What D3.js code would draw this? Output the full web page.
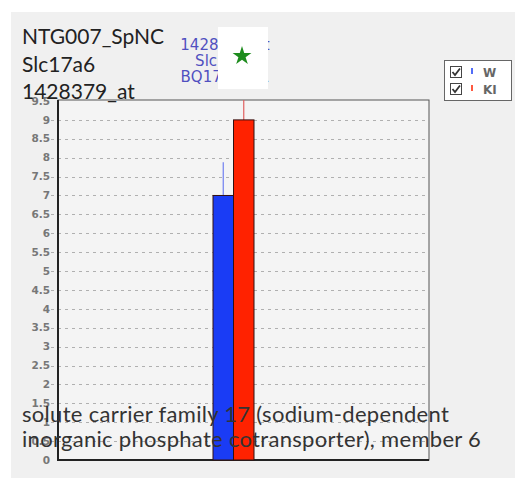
<!DOCTYPE html>
<html>
<head>
<meta charset="utf-8">
<script src="https://cdn.jsdelivr.net/npm/d3@7"></script>
<style>
  body { margin: 0; background: #fff; }
  svg { display: block; }
</style>
</head>
<body>
<svg id="chart"></svg>
<script>
(function() {

  var width = 515, height = 481;

  // data
  var groups = ["W", "KI"];
  var means = [7.0, 9.0];
  var errTops = [7.88, 9.6];
  var barColors = ["#1a3cf5", "#ff2200"];
  var tickValues = d3.range(0, 9.51, 0.5);
  var titleLines = ["NTG007_SpNC", "Slc17a6", "1428379_at"];
  var probeLines = ["1428379_at", "Slc17a6", "BQ1794551"];
  var descLines = ["solute carrier family 17 (sodium-dependent",
                   "inorganic phosphate cotransporter), member 6"];

  var svg = d3.select("#chart")
    .attr("width", width)
    .attr("height", height);

  // grey panel
  svg.append("rect")
    .attr("x", 11).attr("y", 12)
    .attr("width", width - 11).attr("height", 466)
    .attr("fill", "#f0f0f0");

  var plot = { left: 58, right: 429, top: 100, bottom: 460 };

  var yScale = d3.scaleLinear().domain([0, 9.5]).range([plot.bottom, plot.top + 1]);
  var xScale = d3.scaleBand().domain(groups).range([213, 254]).padding(0);

  svg.append("rect")
    .attr("x", plot.left).attr("y", plot.top)
    .attr("width", plot.right - plot.left).attr("height", plot.bottom - plot.top)
    .attr("fill", "#f4f4f4");

  // dashed grid, spills a bit to the left of the frame
  svg.append("g")
    .selectAll("line")
    .data(tickValues.filter(d => d > 0 && d < 9.5))
    .enter().append("line")
    .attr("x1", 51).attr("x2", plot.right)
    .attr("y1", d => Math.round(yScale(d)) + 0.5)
    .attr("y2", d => Math.round(yScale(d)) + 0.5)
    .attr("stroke", "#b0b0b0")
    .attr("stroke-width", 1)
    .attr("stroke-dasharray", "3,4");

  // tick labels
  svg.append("g")
    .selectAll("text")
    .data(tickValues)
    .enter().append("text")
    .attr("x", 50)
    .attr("y", d => yScale(d))
    .attr("dy", "0.35em")
    .attr("text-anchor", "end")
    .attr("font-family", "DejaVu Sans")
    .attr("font-size", 10.5)
    .attr("font-weight", "bold")
    .attr("fill", "#777")
    .text(d => d);

  // frame
  svg.append("rect")
    .attr("x", plot.left).attr("y", plot.top)
    .attr("width", plot.right - plot.left).attr("height", plot.bottom - plot.top)
    .attr("fill", "none")
    .attr("stroke", "#555")
    .attr("stroke-width", 1);
  svg.append("path")
    .attr("d", "M" + plot.left + "," + plot.top + "V" + plot.bottom + "H" + plot.right)
    .attr("fill", "none")
    .attr("stroke", "#222")
    .attr("stroke-width", 2);

  // error bars (upper only)
  svg.append("g")
    .selectAll("line")
    .data(groups)
    .enter().append("line")
    .attr("x1", d => xScale(d) + xScale.bandwidth() / 2)
    .attr("x2", d => xScale(d) + xScale.bandwidth() / 2)
    .attr("y1", (d, i) => yScale(means[i]))
    .attr("y2", (d, i) => Math.max(plot.top, yScale(errTops[i])))
    .attr("stroke", (d, i) => i === 0 ? "#6f7ff0" : "#e06060")
    .attr("stroke-width", 1.2);

  // bars
  svg.append("g")
    .selectAll("rect")
    .data(groups)
    .enter().append("rect")
    .attr("x", d => xScale(d))
    .attr("y", (d, i) => yScale(means[i]))
    .attr("width", xScale.bandwidth())
    .attr("height", (d, i) => plot.bottom - yScale(means[i]))
    .attr("fill", (d, i) => barColors[i])
    .attr("stroke", "#331111")
    .attr("stroke-width", 1);

  // title lines top-left
  svg.append("g")
    .selectAll("text")
    .data(titleLines)
    .enter().append("text")
    .attr("x", 22)
    .attr("y", (d, i) => 44 + i * 27.5)
    .attr("font-family", "Lato")
    .attr("font-size", 21)
    .attr("fill", "#222")
    .text(d => d);

  // probe label, partly hidden by the white star box
  svg.append("g")
    .selectAll("text")
    .data(probeLines)
    .enter().append("text")
    .attr("x", 225)
    .attr("y", (d, i) => 50 + i * 16)
    .attr("text-anchor", "middle")
    .attr("font-family", "DejaVu Sans")
    .attr("font-size", 15)
    .attr("fill", "#5050c0")
    .text(d => d);

  svg.append("rect")
    .attr("x", 218).attr("y", 27)
    .attr("width", 50).attr("height", 62)
    .attr("fill", "#fff");

  svg.append("path")
    .attr("d", d3.symbol().type(d3.symbolStar).size(110))
    .attr("transform", "translate(242,56)")
    .attr("fill", "#1e8c1e");

  // legend
  var legend = svg.append("g").attr("transform", "translate(444,60)");
  legend.append("rect")
    .attr("x", 0.5).attr("y", 0.5)
    .attr("width", 67).attr("height", 40)
    .attr("fill", "#fff")
    .attr("stroke", "#666");

  var items = legend.selectAll("g.item")
    .data(groups)
    .enter().append("g")
    .attr("class", "item")
    .attr("transform", (d, i) => "translate(6," + (6 + i * 17) + ")");

  items.append("rect")
    .attr("x", 0.5).attr("y", 0.5)
    .attr("width", 11).attr("height", 11)
    .attr("fill", "#fff")
    .attr("stroke", "#444");
  items.append("path")
    .attr("d", "M2.5,6 L5,9 L10,2.5")
    .attr("fill", "none")
    .attr("stroke", "#333")
    .attr("stroke-width", 1.8);
  items.append("line")
    .attr("x1", 22).attr("x2", 22)
    .attr("y1", 2).attr("y2", 8)
    .attr("stroke", (d, i) => barColors[i])
    .attr("stroke-width", 1.5);
  items.append("text")
    .attr("x", 33)
    .attr("y", 11)
    .attr("font-family", "DejaVu Sans")
    .attr("font-size", 12)
    .attr("font-weight", "bold")
    .attr("fill", "#666")
    .text(d => d);

  // gene description over the plot
  svg.append("g")
    .selectAll("text")
    .data(descLines)
    .enter().append("text")
    .attr("x", 22)
    .attr("y", (d, i) => 422 + i * 25)
    .attr("font-family", "Lato")
    .attr("font-size", 22)
    .attr("letter-spacing", 0.3)
    .attr("fill", "#333")
    .text(d => d);

})()
</script>
</body>
</html>
